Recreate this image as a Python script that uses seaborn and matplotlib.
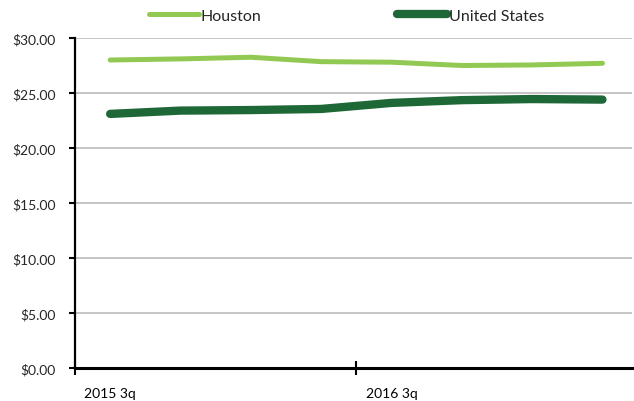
"""
Average wage chart: Houston vs United States, quarterly
"""

import pandas as pd
import matplotlib.pyplot as plt
import seaborn as sns
from matplotlib.ticker import FixedLocator, FuncFormatter

# -------------------------
# Data
# -------------------------
quarters = ["2015 3q", "2015 4q", "2016 1q", "2016 2q",
            "2016 3q", "2016 4q", "2017 1q", "2017 2q"]
houston = [28.0, 28.1, 28.25, 27.85, 27.8, 27.5, 27.55, 27.7]
united_states = [23.1, 23.4, 23.45, 23.55, 24.1, 24.35, 24.45, 24.4]
shown_labels = ["2015 3q", "2016 3q"]

series_names = ["Houston", "United States"]
colors = ["#92C953", "#1E6736"]
widths = [3.6, 6.0]


def build_frame():
    rows = []
    for name, values in zip(series_names, [houston, united_states]):
        for i, (q, v) in enumerate(zip(quarters, values)):
            rows.append({"idx": i, "quarter": q, "series": name, "value": v})
    return pd.DataFrame(rows)


def make_plot():
    sns.set_style("white")
    plt.rcParams["font.family"] = ["Lato", "DejaVu Sans"]

    df = build_frame()

    fig = plt.figure(figsize=(6.34, 4.02), dpi=100)
    ax = fig.add_axes([75 / 634, 33 / 402, 557 / 634, 330 / 402])

    sns.lineplot(data=df, x="idx", y="value", hue="series",
                 palette=dict(zip(series_names, colors)), ax=ax,
                 legend=False)
    for line, lw in zip(ax.get_lines(), widths):
        line.set_linewidth(lw)
        line.set_solid_capstyle("round")
        line.set_solid_joinstyle("round")

    # -------------------------
    # Axes
    # -------------------------
    ax.set_xlim(-0.5, len(quarters) - 0.58)
    ax.set_ylim(0, 30)
    ax.set_yticks(range(0, 31, 5))
    ax.yaxis.set_major_formatter(FuncFormatter(lambda v, _: f"${v:.2f}"))
    ax.grid(axis="y", color="#C0C0C0", linewidth=1.3)
    ax.set_axisbelow(True)

    label_pos = [quarters.index(q) for q in shown_labels]
    ax.set_xticks(label_pos)
    ax.set_xticklabels(shown_labels)
    ax.xaxis.set_minor_locator(FixedLocator([p - 0.5 for p in label_pos]))
    ax.tick_params(axis="x", which="major", bottom=True, length=0, pad=14,
                   labelsize=10, colors="#000000")
    ax.tick_params(axis="x", which="minor", bottom=True, length=10,
                   width=1.5, direction="inout", color="black")
    ax.tick_params(axis="y", left=True, length=4, width=1.5,
                   direction="out", pad=10, labelsize=10, color="black")

    sns.despine(ax=ax)
    ax.spines["left"].set_linewidth(1.6)
    ax.spines["left"].set_color("black")
    ax.spines["bottom"].set_linewidth(2.2)
    ax.spines["bottom"].set_color("black")
    ax.set_xlabel("")
    ax.set_ylabel("")

    # -------------------------
    # Legend
    # -------------------------
    handles = [plt.Line2D([], [], color=c, linewidth=w, solid_capstyle="round")
               for c, w in zip(colors, widths)]
    fig.legend(handles, series_names, loc="center", ncol=2,
               bbox_to_anchor=(0.547, 0.958), frameon=False,
               handlelength=3.1, handletextpad=0.12, columnspacing=8.5,
               fontsize=11.5)

    fig.savefig("out.png", dpi=100)
    plt.close(fig)


if __name__ == "__main__":
    make_plot()
